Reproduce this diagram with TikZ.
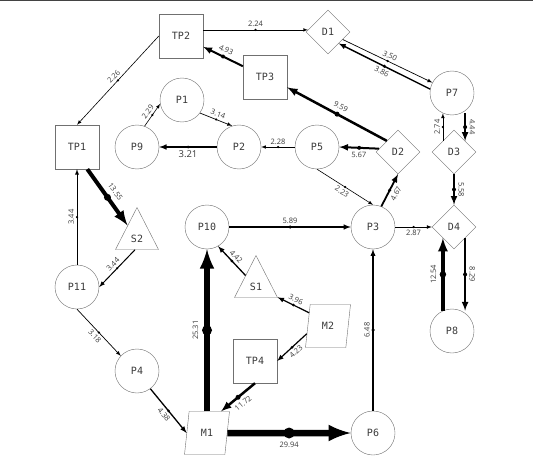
\documentclass[tikz,border=0pt]{standalone}
\usepackage{fontspec}
\usepackage{xcolor}
\usepackage{tikz}
\usetikzlibrary{shapes.geometric}

\newfontfamily\nodefont{DejaVu Sans Mono}
\newfontfamily\lblfont{Open Sans}
\definecolor{shapegray}{HTML}{707070}
\definecolor{textgray}{HTML}{3A3A3A}

\begin{document}
\begin{tikzpicture}[x=1pt, y=1pt,
    every node/.style={text=textgray},
    place/.style={circle, draw=shapegray, font=\nodefont\fontsize{10}{12}\selectfont, minimum size=44pt, inner sep=0pt},
    trans/.style={rectangle, draw=shapegray, font=\nodefont\fontsize{10}{12}\selectfont, minimum size=44pt, inner sep=0pt},
    decide/.style={diamond, draw=shapegray, font=\nodefont\fontsize{10}{12}\selectfont, minimum size=44pt, inner sep=0pt},
    source/.style={isosceles triangle, shape border rotate=90, isosceles triangle stretches, draw=shapegray, font=\nodefont\fontsize{10}{12}\selectfont, minimum width=43pt, minimum height=42pt, inner sep=0pt, anchor=apex},
    merge/.style={trapezium, trapezium left angle=78, trapezium right angle=102, trapezium stretches=true, draw=shapegray, font=\nodefont\fontsize{10}{12}\selectfont, minimum width=45pt, minimum height=43pt, inner sep=0pt},
    flow/.style={-latex, draw=black},
    middot/.style={circle, fill=black, inner sep=0pt, minimum size=#1},
    lbl/.style={sloped, auto, font=\lblfont\fontsize{7.5}{9}\selectfont, inner sep=2.5pt}]
    \fill[white] (0,0) rectangle (533,459);
    \useasboundingbox (0,0) rectangle (533,459);
    \draw[shapegray!60!black, line width=1.5pt] (0,458.25) -- (533,458.25);

    % nodes
    \node[trans] (tp2) at (181,423) {TP2};
    \node[decide] (d1) at (328,427) {D1};
    \node[trans] (tp3) at (265,382) {TP3};
    \node[place] (p7) at (452,366) {P7};
    \node[place] (p1) at (182,359) {P1};
    \node[trans] (tp1) at (77,312) {TP1};
    \node[place] (p9) at (137,312) {P9};
    \node[place] (p2) at (239,312) {P2};
    \node[place] (p5) at (317,312) {P5};
    \node[decide] (d2) at (398,307) {D2};
    \node[decide] (d3) at (454,307) {D3};
    \node[source] (s2) at (137,252) {S2};
    \node[place] (p10) at (207,232) {P10};
    \node[place] (p3) at (373,232) {P3};
    \node[decide] (d4) at (454,232) {D4};
    \node[source] (s1) at (256,204) {S1};
    \node[place] (p11) at (77,172) {P11};
    \node[merge] (m2) at (328,133) {M2};
    \node[place] (p8) at (452,128) {P8};
    \node[trans] (tp4) at (255,98) {TP4};
    \node[place] (p4) at (137,88) {P4};
    \node[merge] (m1) at (207,26) {M1};
    \node[place] (p6) at (373,26) {P6};

    % flows, top part
    \draw[flow, line width=0.6pt] (tp2.east |- d1.174) -- (d1.174) node[middot=2.5pt, midway] {} node[lbl, midway] {2.24};
    \draw[flow, line width=0.6pt] (tp2.west) -- (tp1.north) node[middot=2.5pt, midway] {} node[lbl, midway] {2.26};
    \draw[flow, line width=2pt] (tp3) -- (tp2) node[middot=4pt, midway] {} node[lbl, midway, inner sep=3.5pt] {4.93};
    \draw[flow, line width=2.5pt] (d2.north west) -- (tp3.-25) node[middot=5pt, midway] {} node[lbl, midway, inner sep=4pt] {9.59};
    \draw[flow, line width=0.7pt] (d1.-27) -- (p7.152) node[middot=2.5pt, midway] {} node[lbl, midway] {3.50};
    \draw[flow, line width=1.4pt] (p7.170) -- (d1.-47) node[middot=3.5pt, midway] {} node[lbl, midway, swap] {3.86};
    \draw[flow, line width=0.6pt] (p9.70) -- (p1.190) node[middot=2.5pt, midway] {} node[lbl, midway] {2.29};
    \draw[flow, line width=0.7pt] (p1.-36) -- (p2.108) node[middot=2.5pt, midway] {} node[lbl, midway] {3.14};
    \draw[flow, line width=1.5pt] (p2) -- (p9) node[middot=3pt, midway] {} node[lbl, midway, swap, font=\lblfont\fontsize{9.5}{11}\selectfont] {3.21};
    \draw[flow, line width=0.6pt] (p5) -- (p2) node[middot=2.5pt, midway] {} node[lbl, midway] {2.28};
    \draw[flow, line width=2pt] (d2.170) -- (p5.east) node[middot=4pt, midway] {} node[lbl, midway, swap, inner sep=3.5pt] {5.67};
    \draw[flow, line width=0.6pt] (p5.south) -- (p3.north) node[middot=2.5pt, midway] {} node[lbl, midway, swap] {2.23};
    \draw[flow, line width=1.8pt] (p3.68) -- (d2.south) node[middot=3.5pt, midway] {} node[lbl, midway, swap, inner sep=3.5pt] {4.67};

    % flows, right part
    \draw[flow, line width=0.7pt] (d3.north west) -- (d3.north west |- p7.-114) node[middot=2.5pt, midway] {} node[lbl, midway] {2.74};
    \draw[flow, line width=2pt] (p7.-66 -| d3.north east) -- (d3.north east) node[middot=4pt, midway] {} node[lbl, midway, inner sep=3.5pt] {4.44};
    \draw[flow, line width=2pt] (d3.south) -- (d4.north) node[middot=4pt, midway] {} node[lbl, midway, inner sep=3.5pt] {5.58};
    \draw[flow, line width=0.7pt] (p3.east) -- (d4.west) node[middot=2.5pt, midway] {} node[lbl, midway, swap] {2.87};
    \draw[flow, line width=3.5pt] (p8.114 -| d4.south west) -- (d4.south west) node[middot=6.5pt, midway] {} node[lbl, midway, inner sep=5pt] {12.54};
    \draw[flow, line width=2pt] (d4.south east) -- (d4.south east |- p8.66) node[middot=4pt, midway] {} node[lbl, midway, inner sep=3.5pt] {8.29};
    \draw[flow, line width=1.5pt] (p10.east) -- (p3.west) node[middot=3.5pt, midway] {} node[lbl, midway] {5.89};
    \draw[flow, line width=1.3pt] (p6.north) -- (p3.south) node[middot=3.5pt, midway] {} node[lbl, midway] {6.48};

    % flows, left and bottom part
    \draw[flow, line width=6.5pt] (m1.east) -- (p6.west) node[middot=11pt, midway] {} node[lbl, midway, swap, inner sep=6pt] {29.94};
    \draw[flow, line width=5.5pt] (m1.north -| p10.south) -- (p10.south) node[middot=10pt, midway] {} node[lbl, midway, inner sep=6pt] {25.31};
    \draw[flow, line width=4pt] (tp1.-65) -- (s2) node[middot=7pt, midway] {} node[lbl, midway, inner sep=5pt] {13.55};
    \draw[flow, line width=0.9pt] (p11.north) -- (tp1.south) node[middot=2.5pt, midway] {} node[lbl, midway] {3.44};
    \draw[flow, line width=1pt] (s2.-100) -- (p11.east) node[middot=2.5pt, midway] {} node[lbl, midway] {3.44};
    \draw[flow, line width=0.7pt] (p11.south) -- (p4.137) node[middot=2.5pt, midway] {} node[lbl, midway, swap] {3.18};
    \draw[flow, line width=1.3pt] (p4.-53) -- (m1.west) node[middot=3pt, midway] {} node[lbl, midway, swap] {4.38};
    \draw[flow, line width=2.5pt] (tp4.south) -- (m1.57) node[middot=5pt, midway] {} node[lbl, midway, swap, inner sep=4pt] {11.72};
    \draw[flow, line width=1.2pt] (m2.200) -- (tp4.east) node[middot=3pt, midway] {} node[lbl, midway, swap] {4.23};
    \draw[flow, line width=1.2pt] (m2.145) -- (s1) node[middot=3pt, midway] {} node[lbl, midway] {3.96};
    \draw[flow, line width=1.3pt] (s1) -- (p10.-60) node[middot=3pt, midway] {} node[lbl, midway] {4.42};
\end{tikzpicture}
\end{document}
